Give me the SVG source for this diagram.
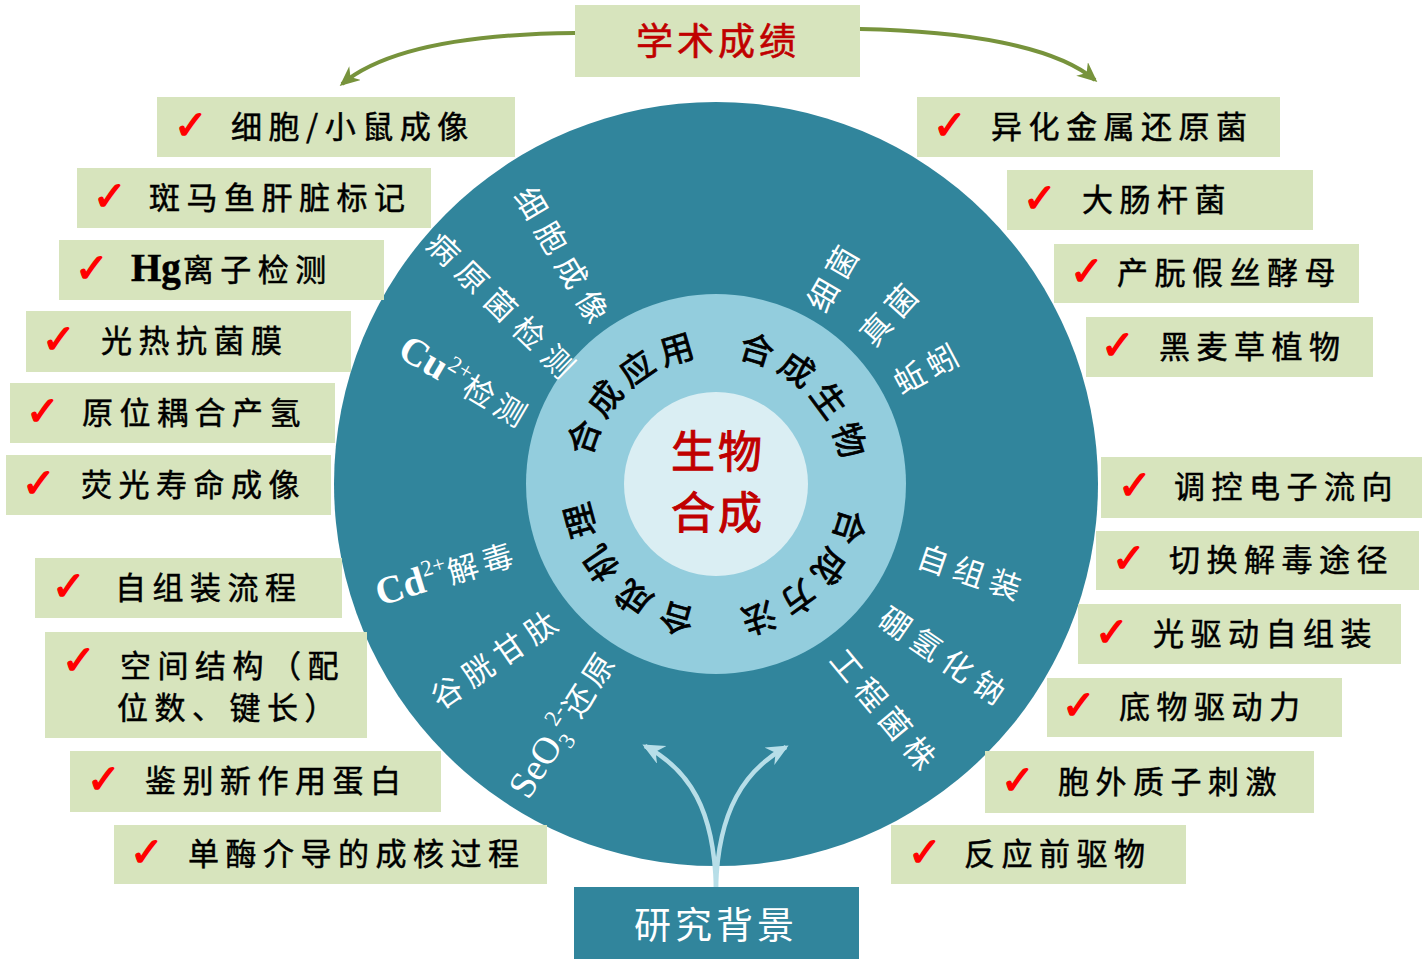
<svg xmlns="http://www.w3.org/2000/svg" width="1424" height="972" viewBox="0 0 1424 972">
<style>
.box{fill:#D7E4BD}
.t{font-family:"Noto Sans CJK SC","Noto Sans",sans-serif;font-size:31px;letter-spacing:6.5px;fill:#000;stroke:#000;stroke-width:0.5}
.ser{font-family:"Liberation Serif",serif;font-weight:bold;font-size:39px;letter-spacing:0}
.ck{font-family:"DejaVu Sans",sans-serif;font-size:40px;fill:#FF0000;stroke:#FF0000;stroke-width:1.4}
.w{font-family:"Noto Sans CJK SC",sans-serif;font-size:31px;fill:#fff;text-anchor:middle}
.wser{font-family:"Liberation Serif",serif}
.m{font-family:"Noto Sans CJK SC",sans-serif;font-size:34px;fill:#000;text-anchor:middle;stroke:#000;stroke-width:0.8}
.red{font-family:"Noto Sans CJK SC",sans-serif;fill:#C00000}
.g{fill:none;stroke:#77933C;stroke-width:4}
.lb{fill:none;stroke:#B7DEE8;stroke-width:4.5}
</style>
<defs>
<marker id="ag" markerUnits="userSpaceOnUse" markerWidth="26" markerHeight="26" refX="17" refY="9" orient="auto">
<path d="M0,0 L20,9 L0,18 L6,9 z" fill="#77933C"/>
</marker>
<marker id="ab" markerUnits="userSpaceOnUse" markerWidth="30" markerHeight="30" refX="19" refY="10" orient="auto">
<path d="M0,0 L22,10 L0,20 L7,10 z" fill="#B7DEE8"/>
</marker>
</defs>
<rect width="1424" height="972" fill="#fff"/>

<g id="ring">
<circle cx="716" cy="484" r="382" fill="#31859C"/>
<circle cx="716" cy="484" r="190" fill="#93CDDD"/>
<circle cx="716" cy="484" r="92" fill="#DAEEF3"/>
</g>

<g id="center">
<text class="red" x="718" y="468" font-size="44" letter-spacing="3" text-anchor="middle" stroke="#C00000" stroke-width="1">生物</text>
<text class="red" x="718" y="529" font-size="44" letter-spacing="3" text-anchor="middle" stroke="#C00000" stroke-width="1">合成</text>
</g>

<g id="middle-ring">
<text class="m" transform="translate(849.3,526.8) rotate(107.8)" y="12">合</text>
<text class="m" transform="translate(829.3,566.3) rotate(126)" y="12">成</text>
<text class="m" transform="translate(797.9,597.6) rotate(144.2)" y="12">方</text>
<text class="m" transform="translate(758.6,617.4) rotate(162.3)" y="12">法</text>
<text class="m" transform="translate(676.9,618.4) rotate(196.2)" y="12">合</text>
<text class="m" transform="translate(634.2,597.6) rotate(215.77)" y="12">成</text>
<text class="m" transform="translate(600.9,563.6) rotate(235.33)" y="12">机</text>
<text class="m" transform="translate(580.8,520.5) rotate(254.9)" y="12">理</text>
<text class="m" transform="translate(584.0,437.3) rotate(289.5)" y="12">合</text>
<text class="m" transform="translate(605.0,398.6) rotate(307.57)" y="12">成</text>
<text class="m" transform="translate(636.9,368.5) rotate(325.63)" y="12">应</text>
<text class="m" transform="translate(676.7,349.6) rotate(343.7)" y="12">用</text>
<text class="m" transform="translate(756.7,350.0) rotate(16.9)" y="12">合</text>
<text class="m" transform="translate(796.7,369.6) rotate(35.2)" y="12">成</text>
<text class="m" transform="translate(828.5,400.7) rotate(53.5)" y="12">生</text>
<text class="m" transform="translate(849.0,440.3) rotate(71.8)" y="12">物</text>
</g>

<g id="outer-ring">
<text class="w" transform="translate(561,254.5) rotate(59.4)" x="5" y="11" letter-spacing="9">细胞成像</text>
<text class="w" transform="translate(500,305) rotate(44.5)" x="5" y="11" letter-spacing="9">病原菌检测</text>
<text class="w" transform="translate(462,382) rotate(30.6)" x="3" y="11"><tspan class="wser" font-size="39" font-weight="bold">Cu</tspan><tspan class="wser" font-size="23" dy="-15">2+</tspan><tspan dy="15" letter-spacing="5">检测</tspan></text>
<text class="w" transform="translate(832.8,279.5) rotate(-60)" x="4" y="11" letter-spacing="7">细菌</text>
<text class="w" transform="translate(888.7,315.7) rotate(-48)" x="4" y="11" letter-spacing="7">真菌</text>
<text class="w" transform="translate(925.3,370) rotate(-28)" x="4" y="11" letter-spacing="6">蚯蚓</text>
<text class="w" transform="translate(444,575) rotate(-17)" x="3" y="11"><tspan class="wser" font-size="39" font-weight="bold">Cd</tspan><tspan class="wser" font-size="23" dy="-15">2+</tspan><tspan dy="15" letter-spacing="5">解毒</tspan></text>
<text class="w" transform="translate(493.5,660.5) rotate(-34.6)" x="4" y="11" letter-spacing="7">谷胱甘肽</text>
<text class="w" transform="translate(562.5,726.5) rotate(-57.5)" x="3" y="11"><tspan class="wser" font-size="38">SeO</tspan><tspan class="wser" font-size="23" dy="8">3</tspan><tspan class="wser" font-size="23" dy="-24">2-</tspan><tspan dy="16" letter-spacing="5">还原</tspan></text>
<text class="w" transform="translate(968.5,572.5) rotate(18.9)" x="4" y="11" letter-spacing="7">自组装</text>
<text class="w" transform="translate(941.5,655.5) rotate(34.4)" x="4" y="11" letter-spacing="7">硼氢化钠</text>
<text class="w" transform="translate(882.5,709) rotate(50.3)" x="4" y="11" letter-spacing="7">工程菌株</text>
</g>

<g id="connectors">
<path class="g" d="M575,33 C470,34 385,48 342,84" marker-end="url(#ag)"/>
<path class="g" d="M860,29 C965,31 1055,46 1095,80" marker-end="url(#ag)"/>
<path class="lb" d="M716,887 C714,810 690,770 645,746" marker-end="url(#ab)"/>
<path class="lb" d="M716,887 C718,810 745,770 786,747" marker-end="url(#ab)"/>
</g>

<g id="title-top">
<rect x="575" y="5" width="285" height="72" class="box"/>
<text class="red" x="636" y="55" font-size="37" letter-spacing="4" stroke="#C00000" stroke-width="0.6">学术成绩</text>
</g>
<g id="title-bottom">
<rect x="574" y="887" width="285" height="72" fill="#31859C"/>
<text x="634" y="939" font-family="Noto Sans CJK SC, sans-serif" font-size="37" letter-spacing="4" fill="#fff">研究背景</text>
</g>

<g id="L1"><rect class="box" x="157" y="97" width="358" height="60"/><text class="ck" x="174" y="139">✓</text><text class="t" x="231" y="138">细胞/小鼠成像</text></g>
<g id="L2"><rect class="box" x="77" y="168" width="354" height="60"/><text class="ck" x="93" y="210">✓</text><text class="t" x="149" y="209">斑马鱼肝脏标记</text></g>
<g id="L3"><rect class="box" x="59" y="240" width="325" height="60"/><text class="ck" x="75" y="282">✓</text><text class="t" x="131" y="281"><tspan class="ser">Hg</tspan><tspan dx="2">离子检测</tspan></text></g>
<g id="L4"><rect class="box" x="26" y="311" width="325" height="61"/><text class="ck" x="42" y="353">✓</text><text class="t" x="101" y="352">光热抗菌膜</text></g>
<g id="L5"><rect class="box" x="10" y="383" width="325" height="60"/><text class="ck" x="26" y="425">✓</text><text class="t" x="82" y="424">原位耦合产氢</text></g>
<g id="L6"><rect class="box" x="6" y="455" width="325" height="60"/><text class="ck" x="22" y="497">✓</text><text class="t" x="81" y="496">荧光寿命成像</text></g>
<g id="L7"><rect class="box" x="35" y="558" width="307" height="60"/><text class="ck" x="52" y="600">✓</text><text class="t" x="115" y="599">自组装流程</text></g>
<g id="L8"><rect class="box" x="45" y="632" width="322" height="106"/><text class="ck" x="62" y="674">✓</text><text class="t" x="120" y="677">空间结构（配</text><text class="t" x="117" y="719">位数、键长）</text></g>
<g id="L9"><rect class="box" x="70" y="751" width="371" height="61"/><text class="ck" x="87" y="793">✓</text><text class="t" x="145" y="792">鉴别新作用蛋白</text></g>
<g id="L10"><rect class="box" x="114" y="825" width="433" height="59"/><text class="ck" x="130" y="866">✓</text><text class="t" x="188" y="865">单酶介导的成核过程</text></g>

<g id="R1"><rect class="box" x="917" y="97" width="363" height="60"/><text class="ck" x="933" y="139">✓</text><text class="t" x="991" y="138">异化金属还原菌</text></g>
<g id="R2"><rect class="box" x="1007" y="170" width="306" height="60"/><text class="ck" x="1023" y="212">✓</text><text class="t" x="1082" y="211">大肠杆菌</text></g>
<g id="R3"><rect class="box" x="1054" y="244" width="305" height="59"/><text class="ck" x="1070" y="285">✓</text><text class="t" x="1117" y="284">产朊假丝酵母</text></g>
<g id="R4"><rect class="box" x="1086" y="317" width="287" height="60"/><text class="ck" x="1101" y="359">✓</text><text class="t" x="1159" y="358">黑麦草植物</text></g>
<g id="R5"><rect class="box" x="1101" y="457" width="321" height="61"/><text class="ck" x="1118" y="499">✓</text><text class="t" x="1174" y="498">调控电子流向</text></g>
<g id="R6"><rect class="box" x="1096" y="531" width="323" height="59"/><text class="ck" x="1112" y="572">✓</text><text class="t" x="1169" y="571">切换解毒途径</text></g>
<g id="R7"><rect class="box" x="1078" y="604" width="323" height="60"/><text class="ck" x="1095" y="646">✓</text><text class="t" x="1153" y="645">光驱动自组装</text></g>
<g id="R8"><rect class="box" x="1047" y="678" width="295" height="59"/><text class="ck" x="1062" y="719">✓</text><text class="t" x="1119" y="718">底物驱动力</text></g>
<g id="R9"><rect class="box" x="985" y="751" width="329" height="62"/><text class="ck" x="1001" y="794">✓</text><text class="t" x="1058" y="793">胞外质子刺激</text></g>
<g id="R10"><rect class="box" x="891" y="825" width="295" height="59"/><text class="ck" x="908" y="866">✓</text><text class="t" x="964" y="865">反应前驱物</text></g>
</svg>
